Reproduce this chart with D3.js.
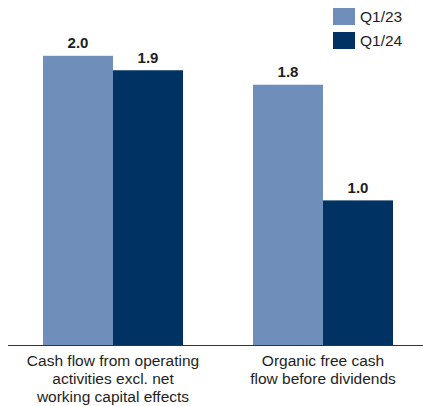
<!DOCTYPE html>
<html>
<head>
<meta charset="utf-8">
<script src="https://cdn.jsdelivr.net/npm/d3@7"></script>
<style>
  html, body { margin: 0; padding: 0; background: #fff; }
  svg { display: block; font-family: Arial, "Liberation Sans", sans-serif; }
</style>
</head>
<body>
<svg id="chart" width="423" height="406"></svg>
<script>
// Cash flow figures, EUR bn
const categories = [
  ["Cash flow from operating", "activities excl. net", "working capital effects"],
  ["Organic free cash", "flow before dividends"]
];
const seriesNames = ["Q1/23", "Q1/24"];
const seriesColors = ["#6F8EBA", "#003264"];
const q123 = [2.0, 1.8];
const q124 = [1.9, 1.0];
const values = [q123, q124];

const svg = d3.select("#chart");
const baseline = 345;

const x0 = d3.scaleBand()
  .domain(d3.range(categories.length))
  .range([8, 428])
  .paddingInner(1 / 3)
  .paddingOuter(1 / 6);

const x1 = d3.scaleBand()
  .domain(d3.range(seriesNames.length))
  .range([0, x0.bandwidth()])
  .padding(0);

const y = d3.scaleLinear().domain([0, 2.0]).range([baseline, 55.8]);

// bars and value labels
const groups = svg.selectAll("g.group")
  .data(categories)
  .join("g")
  .attr("class", "group")
  .attr("transform", (d, i) => `translate(${x0(i)},0)`);

groups.each(function (cat, ci) {
  const g = d3.select(this);
  seriesNames.forEach((s, si) => {
    const v = values[si][ci];
    g.append("rect")
      .attr("x", x1(si))
      .attr("y", y(v))
      .attr("width", x1.bandwidth())
      .attr("height", baseline - y(v))
      .attr("fill", seriesColors[si]);
    g.append("text")
      .attr("x", x1(si) + x1.bandwidth() / 2)
      .attr("y", y(v) - 7.5)
      .attr("text-anchor", "middle")
      .attr("font-size", 15)
      .attr("font-weight", "bold")
      .attr("fill", "#1e1e1e")
      .text(d3.format(".1f")(v));
  });
});

// baseline axis
const axis = d3.axisBottom(x0).tickSize(0).tickFormat("");
const axisG = svg.append("g")
  .attr("transform", `translate(0,${baseline})`)
  .call(axis);
axisG.select(".domain").attr("stroke", "#333").attr("stroke-width", 1)
  .attr("d", "M8,0.5H423");

// category labels
groups.each(function (cat) {
  const t = d3.select(this).append("text")
    .attr("text-anchor", "middle")
    .attr("font-size", 15.5)
    .attr("fill", "#1e1e1e");
  cat.forEach((line, li) => {
    t.append("tspan")
      .attr("x", x0.bandwidth() / 2)
      .attr("y", 366 + li * 18)
      .text(line);
  });
});

// legend
const legend = svg.append("g");
seriesNames.forEach((s, i) => {
  legend.append("rect")
    .attr("x", 333).attr("y", 8 + i * 24)
    .attr("width", 22).attr("height", 17)
    .attr("fill", seriesColors[i]);
  legend.append("text")
    .attr("x", 360).attr("y", 22 + i * 24)
    .attr("font-size", 15.5)
    .attr("fill", "#1e1e1e")
    .text(s);
});
</script>
</body>
</html>
